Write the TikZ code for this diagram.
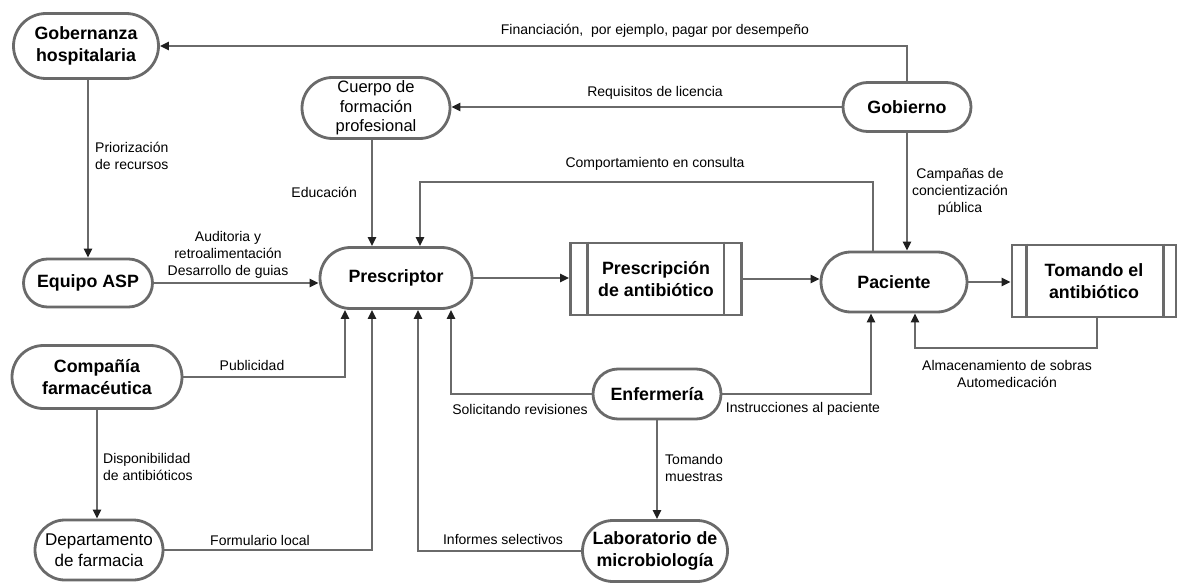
\documentclass[tikz,border=0pt]{standalone}
\usepackage{fontspec}
\setmainfont{Liberation Sans}
\usetikzlibrary{shapes.misc,arrows.meta}
\definecolor{ln}{HTML}{6A6A6A}
\definecolor{tip}{HTML}{202020}
\begin{document}
\begin{tikzpicture}[x=1pt,y=-1pt,
 stad/.style={rounded rectangle, draw=ln, line width=2.8pt, fill=white, inner sep=0pt, align=center, font=\bfseries\fontsize{17.8}{21.5}\selectfont},
 stadl/.style={stad, font=\fontsize{16.5}{19.5}\selectfont},
 proc/.style={rectangle, draw=ln, line width=2.8pt, fill=white, inner sep=0pt, align=center, font=\bfseries\fontsize{17.8}{21.5}\selectfont},
 bar/.style={draw=ln, line width=2.8pt},
 conn/.style={draw=ln, line width=2.6pt, -{Triangle[length=9pt,width=8pt,color=tip]}},
 lbl/.style={inner sep=0pt, align=center, font=\fontsize{14}{17}\selectfont},
]
\useasboundingbox (0,0) rectangle (1178,583);
% nodes
\node[stad, minimum width=145pt, minimum height=65pt] (gob) at (86,46) {Gobernanza\\hospitalaria};
\node[stadl, minimum width=148pt, minimum height=61pt] (cue) at (376,108) {Cuerpo de\\formación\\profesional};
\node[stad, minimum width=128pt, minimum height=49pt] (gov) at (907,107) {Gobierno};
\node[stad, minimum width=129pt, minimum height=48pt] (asp) at (88,283) {Equipo ASP};
\node[stad, minimum width=152pt, minimum height=61pt] (pre) at (396,278) {Prescriptor};
\node[proc, minimum width=171pt, minimum height=72pt] (rx) at (656,279) {Prescripción\\de antibiótico};
\node[stad, minimum width=146pt, minimum height=60pt] (pac) at (894,282) {Paciente};
\node[proc, minimum width=164pt, minimum height=72pt] (tom) at (1094,281) {Tomando el\\antibiótico};
\node[stad, minimum width=170pt, minimum height=63pt] (com) at (97,377) {Compañía\\farmacéutica};
\node[stadl, minimum width=128pt, minimum height=60pt, font=\fontsize{17}{20.5}\selectfont] (dep) at (99,550) {Departamento\\de farmacia};
\node[stad, minimum width=128pt, minimum height=50pt] (enf) at (657,394) {Enfermería};
\node[stad, minimum width=145pt, minimum height=61pt] (lab) at (655,551) {Laboratorio de\\microbiología};
% inner bars of process boxes
\draw[bar] ([xshift=18pt]rx.north west) -- ([xshift=18pt]rx.south west);
\draw[bar] ([xshift=-19pt]rx.north east) -- ([xshift=-19pt]rx.south east);
\draw[bar] ([xshift=16pt]tom.north west) -- ([xshift=16pt]tom.south west);
\draw[bar] ([xshift=-14pt]tom.north east) -- ([xshift=-14pt]tom.south east);
% bend coordinates
\coordinate (xF) at (873,182);
\coordinate (xC) at (420,182);
\coordinate (xB) at (372,0);
\coordinate (xA) at (345,0);
\coordinate (xD) at (418,0);
\coordinate (xE) at (451,0);
\coordinate (xG) at (871,0);
\coordinate (xI) at (1097,348);
\coordinate (xH) at (915,348);
% connectors
\draw[conn] (gov.north) |- (gob.east);
\draw[conn] (gov.west) -- (gov.west -| cue.east);
\draw[conn] (pac.north -| xF) -- (xF) -- (xC) -- (xC |- pre.north);
\draw[conn] (cue.south -| xB) -- (xB |- pre.north);
\draw[conn] (gob.south -| asp.north) -- (asp.north);
\draw[conn] (gov.south) -- (gov.south |- pac.north);
\draw[conn] (asp.east) -- (asp.east -| pre.west);
\draw[conn] (pre.east) -- (pre.east -| rx.west);
\draw[conn] (rx.east) -- (rx.east -| pac.west);
\draw[conn] (pac.east) -- (pac.east -| tom.west);
\draw[conn] (tom.south -| xI) -- (xI) -- (xH) -- (xH |- pac.south);
\draw[conn] (com.east) -| (xA |- pre.south);
\draw[conn] (com.south) -- (com.south |- dep.north);
\draw[conn] (dep.east) -| (xB |- pre.south);
\draw[conn] (enf.west) -| (xE |- pre.south);
\draw[conn] (enf.east) -| (xG |- pac.south);
\draw[conn] (enf.south) -- (enf.south |- lab.north);
\draw[conn] (lab.west) -| (xD |- pre.south);
% labels
\node[lbl] (l1) at (655,31) {Financiación,\ \ por ejemplo, pagar por desempeño};
\node[lbl] (l2) at (655,93) {Requisitos de licencia};
\node[lbl] (l3) at (655,164) {Comportamiento en consulta};
\node[lbl, anchor=east] (l4) at (357,192) {Educación};
\node[lbl, anchor=west, align=left] (l5) at (95,155.5) {Priorización\\de recursos};
\node[lbl] (l6) at (960,191.5) {Campañas de\\concientización\\pública};
\node[lbl] (l7) at (228,254.5) {Auditoria y\\retroalimentación\\Desarrollo de guias};
\node[lbl] (l8) at (1007,373.5) {Almacenamiento de sobras\\Automedicación};
\node[lbl] (l9) at (252,365) {Publicidad};
\node[lbl, anchor=west, align=left] (l10) at (103,467) {Disponibilidad\\de antibióticos};
\node[lbl] (l11) at (260,540) {Formulario local};
\node[lbl] (l12) at (520,409) {Solicitando revisiones};
\node[lbl] (l13) at (803,409) {Instrucciones al paciente};
\node[lbl, anchor=west, align=left] (l14) at (665,467.5) {Tomando\\muestras};
\node[lbl] (l15) at (503,539) {Informes selectivos};
\end{tikzpicture}
\end{document}
